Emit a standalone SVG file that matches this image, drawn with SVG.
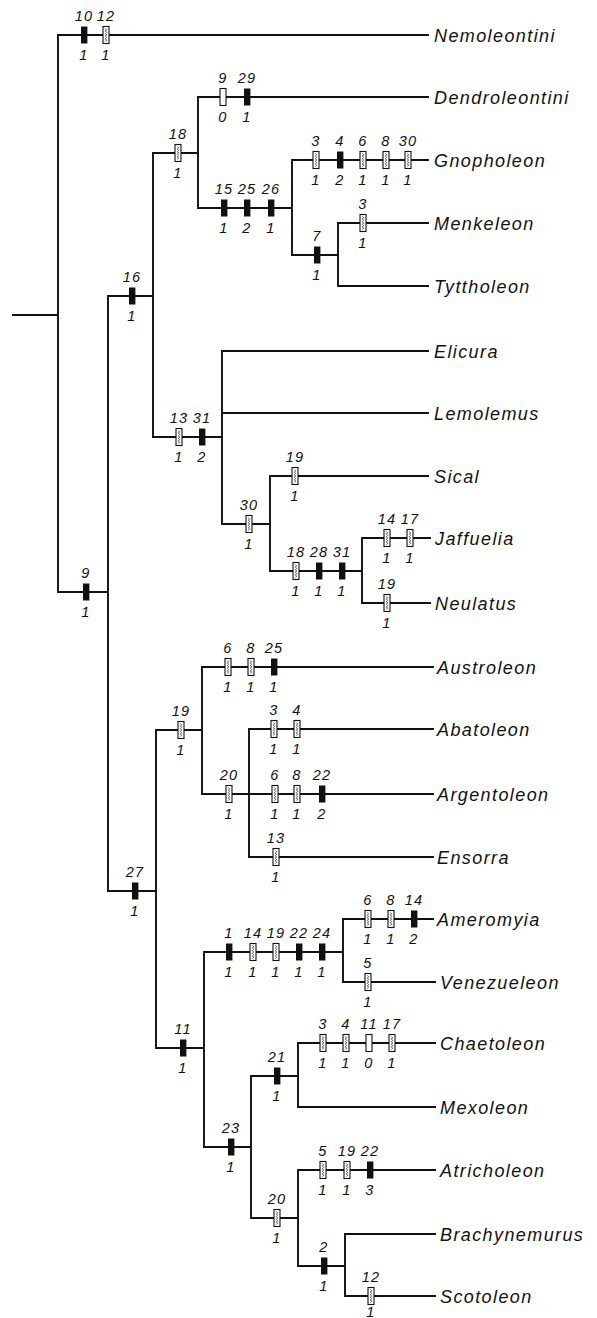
<svg xmlns="http://www.w3.org/2000/svg" width="597" height="1318" viewBox="0 0 597 1318">
<style>
.c{fill:none;stroke:#111;stroke-width:1.9;stroke-linecap:square}
.t{font-family:"Liberation Sans",Arial,sans-serif;font-style:italic;font-size:18px;letter-spacing:1.4px;fill:#111}
.n{font-family:"Liberation Sans",Arial,sans-serif;font-style:italic;font-size:14.5px;letter-spacing:1.2px;text-anchor:middle;fill:#111}
</style>
<defs>
<g id="b"><rect x="-3" y="-8.5" width="6.4" height="17" fill="#111"/></g>
<g id="o"><rect x="-3" y="-8.5" width="6" height="17" fill="#fff" stroke="#111" stroke-width="1.1"/></g>
<g id="h"><rect x="-3" y="-8.5" width="6" height="17" fill="#fff" stroke="#111" stroke-width="1.1"/><path d="M-0.6,-6.5 l1.2,1.3 l-1.2,1.3 l1.2,1.3 l-1.2,1.3 l1.2,1.3 l-1.2,1.3 l1.2,1.3 l-1.2,1.3 l1.2,1.3 l-1.2,1.3" fill="none" stroke="#333" stroke-width="0.9"/></g>
</defs>
<g id="connectors" class="c">
<path d="M13,315H58M58,35V592M58,35H428M58,592H108M108,296V891"/>
<path d="M108,296H153M153,153V437M153,153H198M198,97V208M198,97H428M198,208H292M292,160V255M292,160H428M292,255H338M338,223V286M338,223H428M338,286H428"/>
<path d="M153,437H222M222,351V524M222,351H428M222,413H428M222,524H270M270,476V571M270,476H428M270,571H362M362,538V603M362,538H430M362,603H430"/>
<path d="M108,891H156M156,730V1048M156,730H202M202,667V794M202,667H433M202,794H249M249,729V857M249,729H433M249,794H433M249,857H433"/>
<path d="M156,1048H204M204,952V1147M204,952H343M343,919V982M343,919H433M343,982H435"/>
<path d="M204,1147H251M251,1076V1218M251,1076H298M298,1043V1107M298,1043H435M298,1107H435M251,1218H298M298,1170V1266M298,1170H435M298,1266H345M345,1234V1296M345,1234H435M345,1296H435"/>
</g>
<g id="characters">
<g id="br-nemo"><use href="#b" x="84" y="35"/><text class="n" x="84" y="21">10</text><text class="n" x="84" y="60">1</text><use href="#h" x="106" y="35"/><text class="n" x="106" y="21">12</text><text class="n" x="106" y="60">1</text></g>
<g id="br-9"><use href="#b" x="86" y="592"/><text class="n" x="86" y="578">9</text><text class="n" x="86" y="617">1</text></g>
<g id="br-16"><use href="#b" x="132" y="296"/><text class="n" x="132" y="282">16</text><text class="n" x="132" y="321">1</text></g>
<g id="br-18"><use href="#h" x="178" y="153"/><text class="n" x="178" y="139">18</text><text class="n" x="178" y="178">1</text></g>
<g id="br-dendro"><use href="#o" x="223" y="97"/><text class="n" x="223" y="83">9</text><text class="n" x="223" y="122">0</text><use href="#b" x="247" y="97"/><text class="n" x="247" y="83">29</text><text class="n" x="247" y="122">1</text></g>
<g id="br-15"><use href="#b" x="224" y="208"/><text class="n" x="224" y="194">15</text><text class="n" x="224" y="233">1</text><use href="#b" x="247" y="208"/><text class="n" x="247" y="194">25</text><text class="n" x="247" y="233">2</text><use href="#b" x="271" y="208"/><text class="n" x="271" y="194">26</text><text class="n" x="271" y="233">1</text></g>
<g id="br-gnoph"><use href="#h" x="316" y="160"/><text class="n" x="316" y="146">3</text><text class="n" x="316" y="185">1</text><use href="#b" x="340" y="160"/><text class="n" x="340" y="146">4</text><text class="n" x="340" y="185">2</text><use href="#h" x="363" y="160"/><text class="n" x="363" y="146">6</text><text class="n" x="363" y="185">1</text><use href="#h" x="386" y="160"/><text class="n" x="386" y="146">8</text><text class="n" x="386" y="185">1</text><use href="#h" x="408" y="160"/><text class="n" x="408" y="146">30</text><text class="n" x="408" y="185">1</text></g>
<g id="br-7"><use href="#b" x="317" y="255"/><text class="n" x="317" y="241">7</text><text class="n" x="317" y="280">1</text></g>
<g id="br-menk"><use href="#h" x="363" y="223"/><text class="n" x="363" y="209">3</text><text class="n" x="363" y="248">1</text></g>
<g id="br-13"><use href="#h" x="179" y="437"/><text class="n" x="179" y="423">13</text><text class="n" x="179" y="462">1</text><use href="#b" x="202" y="437"/><text class="n" x="202" y="423">31</text><text class="n" x="202" y="462">2</text></g>
<g id="br-30"><use href="#h" x="249" y="524"/><text class="n" x="249" y="510">30</text><text class="n" x="249" y="549">1</text></g>
<g id="br-sical"><use href="#h" x="295" y="476"/><text class="n" x="295" y="462">19</text><text class="n" x="295" y="501">1</text></g>
<g id="br-18b"><use href="#h" x="296" y="571"/><text class="n" x="296" y="557">18</text><text class="n" x="296" y="596">1</text><use href="#b" x="319" y="571"/><text class="n" x="319" y="557">28</text><text class="n" x="319" y="596">1</text><use href="#b" x="342" y="571"/><text class="n" x="342" y="557">31</text><text class="n" x="342" y="596">1</text></g>
<g id="br-jaff"><use href="#h" x="387" y="538"/><text class="n" x="387" y="524">14</text><text class="n" x="387" y="563">1</text><use href="#h" x="410" y="538"/><text class="n" x="410" y="524">17</text><text class="n" x="410" y="563">1</text></g>
<g id="br-neul"><use href="#h" x="387" y="603"/><text class="n" x="387" y="589">19</text><text class="n" x="387" y="628">1</text></g>
<g id="br-27"><use href="#b" x="135" y="891"/><text class="n" x="135" y="877">27</text><text class="n" x="135" y="916">1</text></g>
<g id="br-19"><use href="#h" x="181" y="730"/><text class="n" x="181" y="716">19</text><text class="n" x="181" y="755">1</text></g>
<g id="br-austro"><use href="#h" x="228" y="667"/><text class="n" x="228" y="653">6</text><text class="n" x="228" y="692">1</text><use href="#h" x="251" y="667"/><text class="n" x="251" y="653">8</text><text class="n" x="251" y="692">1</text><use href="#b" x="274" y="667"/><text class="n" x="274" y="653">25</text><text class="n" x="274" y="692">1</text></g>
<g id="br-20"><use href="#h" x="229" y="794"/><text class="n" x="229" y="780">20</text><text class="n" x="229" y="819">1</text></g>
<g id="br-abato"><use href="#h" x="274" y="729"/><text class="n" x="274" y="715">3</text><text class="n" x="274" y="754">1</text><use href="#h" x="297" y="729"/><text class="n" x="297" y="715">4</text><text class="n" x="297" y="754">1</text></g>
<g id="br-argento"><use href="#h" x="275" y="794"/><text class="n" x="275" y="780">6</text><text class="n" x="275" y="819">1</text><use href="#h" x="297" y="794"/><text class="n" x="297" y="780">8</text><text class="n" x="297" y="819">1</text><use href="#b" x="322" y="794"/><text class="n" x="322" y="780">22</text><text class="n" x="322" y="819">2</text></g>
<g id="br-ensorra"><use href="#h" x="276" y="857"/><text class="n" x="276" y="843">13</text><text class="n" x="276" y="882">1</text></g>
<g id="br-11"><use href="#b" x="183" y="1048"/><text class="n" x="183" y="1034">11</text><text class="n" x="183" y="1073">1</text></g>
<g id="br-1"><use href="#b" x="229" y="952"/><text class="n" x="229" y="938">1</text><text class="n" x="229" y="977">1</text><use href="#h" x="253" y="952"/><text class="n" x="253" y="938">14</text><text class="n" x="253" y="977">1</text><use href="#h" x="276" y="952"/><text class="n" x="276" y="938">19</text><text class="n" x="276" y="977">1</text><use href="#b" x="299" y="952"/><text class="n" x="299" y="938">22</text><text class="n" x="299" y="977">1</text><use href="#b" x="322" y="952"/><text class="n" x="322" y="938">24</text><text class="n" x="322" y="977">1</text></g>
<g id="br-amero"><use href="#h" x="368" y="919"/><text class="n" x="368" y="905">6</text><text class="n" x="368" y="944">1</text><use href="#h" x="391" y="919"/><text class="n" x="391" y="905">8</text><text class="n" x="391" y="944">1</text><use href="#b" x="414" y="919"/><text class="n" x="414" y="905">14</text><text class="n" x="414" y="944">2</text></g>
<g id="br-venez"><use href="#h" x="368" y="982"/><text class="n" x="368" y="968">5</text><text class="n" x="368" y="1007">1</text></g>
<g id="br-23"><use href="#b" x="231" y="1147"/><text class="n" x="231" y="1133">23</text><text class="n" x="231" y="1172">1</text></g>
<g id="br-21"><use href="#b" x="277" y="1076"/><text class="n" x="277" y="1062">21</text><text class="n" x="277" y="1101">1</text></g>
<g id="br-chaet"><use href="#h" x="323" y="1043"/><text class="n" x="323" y="1029">3</text><text class="n" x="323" y="1068">1</text><use href="#h" x="346" y="1043"/><text class="n" x="346" y="1029">4</text><text class="n" x="346" y="1068">1</text><use href="#o" x="369" y="1043"/><text class="n" x="369" y="1029">11</text><text class="n" x="369" y="1068">0</text><use href="#h" x="392" y="1043"/><text class="n" x="392" y="1029">17</text><text class="n" x="392" y="1068">1</text></g>
<g id="br-20b"><use href="#h" x="277" y="1218"/><text class="n" x="277" y="1204">20</text><text class="n" x="277" y="1243">1</text></g>
<g id="br-atri"><use href="#h" x="323" y="1170"/><text class="n" x="323" y="1156">5</text><text class="n" x="323" y="1195">1</text><use href="#h" x="347" y="1170"/><text class="n" x="347" y="1156">19</text><text class="n" x="347" y="1195">1</text><use href="#b" x="370" y="1170"/><text class="n" x="370" y="1156">22</text><text class="n" x="370" y="1195">3</text></g>
<g id="br-2"><use href="#b" x="324" y="1266"/><text class="n" x="324" y="1252">2</text><text class="n" x="324" y="1291">1</text></g>
<g id="br-scoto"><use href="#h" x="371" y="1296"/><text class="n" x="371" y="1282">12</text><text class="n" x="371" y="1317">1</text></g>
</g>
<g id="taxa">
<g id="nemoleontini"><text class="t" x="434" y="41.5">Nemoleontini</text></g>
<g id="dendroleontini"><text class="t" x="434" y="103.5">Dendroleontini</text></g>
<g id="gnopholeon"><text class="t" x="434" y="166.5">Gnopholeon</text></g>
<g id="menkeleon"><text class="t" x="434" y="229.5">Menkeleon</text></g>
<g id="tyttholeon"><text class="t" x="434" y="292.5">Tyttholeon</text></g>
<g id="elicura"><text class="t" x="434" y="357.5">Elicura</text></g>
<g id="lemolemus"><text class="t" x="434" y="419.5">Lemolemus</text></g>
<g id="sical"><text class="t" x="434" y="482.5">Sical</text></g>
<g id="jaffuelia"><text class="t" x="435" y="544.5">Jaffuelia</text></g>
<g id="neulatus"><text class="t" x="435" y="609.5">Neulatus</text></g>
<g id="austroleon"><text class="t" x="437" y="673.5">Austroleon</text></g>
<g id="abatoleon"><text class="t" x="437" y="735.5">Abatoleon</text></g>
<g id="argentoleon"><text class="t" x="437" y="800.5">Argentoleon</text></g>
<g id="ensorra"><text class="t" x="437" y="863.5">Ensorra</text></g>
<g id="ameromyia"><text class="t" x="437" y="925.5">Ameromyia</text></g>
<g id="venezueleon"><text class="t" x="440" y="988.5">Venezueleon</text></g>
<g id="chaetoleon"><text class="t" x="440" y="1049.5">Chaetoleon</text></g>
<g id="mexoleon"><text class="t" x="440" y="1113.5">Mexoleon</text></g>
<g id="atricholeon"><text class="t" x="440" y="1176.5">Atricholeon</text></g>
<g id="brachynemurus"><text class="t" x="440" y="1240.5">Brachynemurus</text></g>
<g id="scotoleon"><text class="t" x="440" y="1302.5">Scotoleon</text></g>
</g>
</svg>
